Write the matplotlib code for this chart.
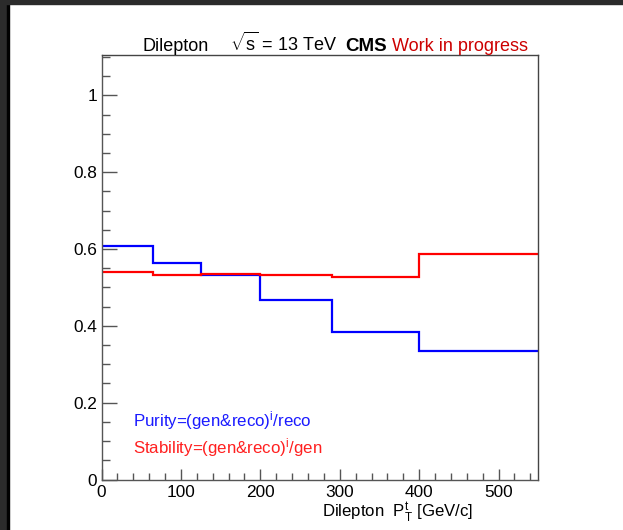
import numpy as np
import matplotlib
matplotlib.use("Agg")
import matplotlib.pyplot as plt
from matplotlib.patches import Rectangle

plt.rcParams['font.family'] = ['Liberation Sans', 'DejaVu Sans']
plt.rcParams['mathtext.fontset'] = 'custom'
plt.rcParams['mathtext.rm'] = 'Liberation Sans'
plt.rcParams['mathtext.it'] = 'Liberation Sans'

# dilepton pT bins and per-bin purity / stability
bin_edges = [0, 65, 125, 200, 290, 400, 550]
purity = [0.608, 0.563, 0.533, 0.466, 0.383, 0.335]
stability = [0.540, 0.533, 0.535, 0.533, 0.528, 0.588]

x_ticks = [0, 100, 200, 300, 400, 500]
y_ticks = [0, 0.2, 0.4, 0.6, 0.8, 1.0]
y_tick_labels = ["0", "0.2", "0.4", "0.6", "0.8", "1"]

W, H = 623, 530
fig = plt.figure(figsize=(W / 100, H / 100), dpi=100)
ax = fig.add_axes([101.5 / W, 1 - 479.5 / H, (538.3 - 101.5) / W, (479.5 - 55) / H])

ax.stairs(purity, bin_edges, color="#0000ff", lw=1.6, baseline=None)
ax.stairs(stability, bin_edges, color="#ff0000", lw=1.6, baseline=None)

ax.set_xlim(0, 550)
ax.set_ylim(0, 1.105)
ax.set_xticks(x_ticks)
ax.set_xticklabels([str(v) for v in x_ticks])
ax.set_yticks(y_ticks)
ax.set_yticklabels(y_tick_labels)
ax.set_xticks(np.arange(0, 551, 20), minor=True)
ax.set_yticks(np.arange(0, 1.101, 0.05), minor=True)

ax.tick_params(axis="both", which="both", direction="in", color="#555555",
               labelsize=12.4, top=False, right=False, width=1)
ax.tick_params(axis="y", which="major", length=10.5, pad=3)
ax.tick_params(axis="y", which="minor", length=5.5)
ax.tick_params(axis="x", which="major", length=8, pad=4)
ax.tick_params(axis="x", which="minor", length=5)
for side in ["left", "bottom"]:
    ax.spines[side].set_color("#555555")
for side in ["top", "right"]:
    ax.spines[side].set_color("#444444")
for sp in ax.spines.values():
    sp.set_linewidth(1.0)

# header line
fs = 13
fig.text(143 / W, 1 - 51 / H, "Dilepton", fontsize=fs, va="baseline")
fig.text(230 / W, 1 - 51 / H, r"$\sqrt{s}$ = 13 TeV", fontsize=fs, va="baseline")
fig.text(345 / W, 1 - 51 / H, "CMS", fontsize=13.5, fontweight="bold", va="baseline")
fig.text(392 / W, 1 - 51 / H, "Work in progress", fontsize=fs, color="#cc0000", va="baseline")

# legend text
fs_leg = 12.2
fig.text(133 / W, 1 - 426 / H, r"Purity=(gen&reco)$^{\mathregular{i}}$/reco",
         fontsize=fs_leg, color="#1a1aff", va="baseline")
fig.text(133 / W, 1 - 453 / H, r"Stability=(gen&reco)$^{\mathregular{i}}$/gen",
         fontsize=fs_leg, color="#ff2020", va="baseline")

# x-axis title
fig.text(473 / W, 1 - 518 / H, r"Dilepton  P$_{\mathregular{T}}^{\mathregular{t}}$ [GeV/c]",
         fontsize=12.1, ha="right", va="baseline")

# window border
fig.patches.append(Rectangle((0, 0), 7 / W, 1, transform=fig.transFigure,
                             color="#2b2b2b", zorder=10))
fig.patches.append(Rectangle((7 / W, 0), 1.5 / W, 1, transform=fig.transFigure,
                             color="#000000", zorder=10))
fig.patches.append(Rectangle((0, 1 - 4 / H), 1, 4 / H, transform=fig.transFigure,
                             color="#2b2b2b", zorder=10))

fig.savefig("out.png", dpi=100)
